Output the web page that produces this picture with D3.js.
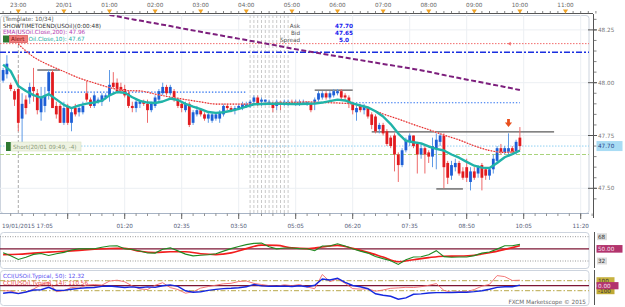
<!DOCTYPE html>
<html>
<head>
<meta charset="utf-8">
<script src="https://cdn.jsdelivr.net/npm/d3@7"></script>
<style>
  body { margin: 0; background: #fff; }
  svg text { font-family: "DejaVu Sans", Verdana, sans-serif; font-size: 5.7px; }
</style>
</head>
<body>
<div id="chart"></div>
<script>
// 5-minute USOil candles, 19/01 22:40 -> 20/01 10:00
const candleStart = new Date(2015, 0, 19, 22, 40);

const opens = [48.01,48.04,47.99,47.96,47.97,47.83,47.92,47.93,47.98,47.95,47.86,47.89,47.96,48.05,47.89,47.89,47.81,47.89,47.81,47.88,
  47.86,47.86,47.95,47.92,47.89,47.91,47.91,47.93,47.94,48.00,48.00,47.98,47.97,47.95,47.89,47.88,47.90,47.91,47.90,47.87,
  47.89,47.92,47.95,47.98,47.95,47.96,47.92,47.90,47.87,47.90,47.81,47.85,47.87,47.85,47.83,47.82,47.83,47.83,47.85,47.89,
  47.88,47.87,47.88,47.88,47.89,47.89,47.91,47.93,47.91,47.91,47.91,47.90,47.89,47.91,47.90,47.90,47.91,47.90,47.90,47.90,
  47.90,47.90,47.90,47.92,47.93,47.95,47.93,47.94,47.95,47.96,47.94,47.93,47.90,47.86,47.89,47.87,47.88,47.85,47.84,47.78,
  47.80,47.77,47.74,47.75,47.66,47.61,47.68,47.72,47.75,47.71,47.66,47.69,47.67,47.65,47.69,47.72,47.75,47.62,47.56,47.60,
  47.62,47.58,47.60,47.53,47.58,47.57,47.61,47.59,47.56,47.59,47.63,47.69,47.67,47.67,47.69,47.67,47.74];
const highs = [48.07,48.13,48.00,47.97,48.04,47.95,47.94,48.00,48.07,47.97,47.98,47.98,48.06,48.06,47.91,47.90,47.91,47.90,47.88,47.90,
  47.89,47.91,48.01,47.93,47.95,47.93,47.95,47.95,48.06,48.05,48.02,48.00,47.99,47.96,47.91,47.92,47.92,47.92,47.92,47.91,
  47.94,47.97,48.00,47.99,47.99,47.97,47.93,47.91,47.91,47.91,47.87,47.89,47.88,47.86,47.86,47.86,47.86,47.87,47.90,47.90,
  47.89,47.89,47.90,47.91,47.91,47.92,47.94,47.94,47.93,47.92,47.92,47.91,47.92,47.91,47.92,47.92,47.92,47.92,47.92,47.92,
  47.91,47.91,47.93,47.96,47.96,47.96,47.96,47.97,47.97,47.97,47.95,47.94,47.91,47.89,47.90,47.90,47.88,47.86,47.85,47.81,
  47.81,47.78,47.75,47.76,47.67,47.69,47.74,47.76,47.75,47.72,47.71,47.70,47.68,47.74,47.76,47.76,47.76,47.63,47.63,47.64,
  47.63,47.60,47.64,47.60,47.60,47.61,47.62,47.60,47.60,47.66,47.70,47.71,47.70,47.76,47.70,47.73,47.79];
const lows = [48.00,48.02,47.96,47.89,47.77,47.71,47.85,47.90,47.91,47.85,47.82,47.86,47.92,47.88,47.83,47.81,47.80,47.80,47.77,47.84,
  47.84,47.85,47.91,47.88,47.88,47.90,47.89,47.92,47.91,47.97,47.95,47.95,47.93,47.88,47.86,47.86,47.88,47.89,47.81,47.86,
  47.88,47.91,47.94,47.94,47.94,47.91,47.88,47.86,47.86,47.79,47.80,47.84,47.84,47.82,47.81,47.81,47.82,47.81,47.84,47.87,
  47.86,47.85,47.87,47.87,47.88,47.88,47.90,47.89,47.89,47.90,47.90,47.86,47.87,47.87,47.89,47.89,47.90,47.89,47.89,47.90,
  47.89,47.86,47.87,47.91,47.92,47.92,47.92,47.93,47.94,47.92,47.92,47.88,47.85,47.82,47.86,47.85,47.83,47.78,47.76,47.76,
  47.75,47.70,47.69,47.58,47.53,47.60,47.67,47.70,47.69,47.57,47.64,47.57,47.62,47.60,47.59,47.70,47.50,47.52,47.54,47.58,
  47.56,47.54,47.53,47.49,47.54,47.55,47.49,47.54,47.54,47.57,47.62,47.66,47.66,47.65,47.66,47.66,47.68];
const closes = [48.06,48.09,47.97,47.92,47.81,47.90,47.88,47.98,47.96,47.87,47.93,47.94,48.05,47.88,47.85,47.81,47.88,47.81,47.86,47.85,
  47.88,47.89,47.92,47.89,47.94,47.92,47.94,47.94,47.99,47.98,47.96,47.96,47.94,47.89,47.88,47.91,47.91,47.90,47.87,47.90,
  47.93,47.96,47.98,47.95,47.98,47.92,47.89,47.88,47.90,47.80,47.86,47.87,47.85,47.83,47.85,47.85,47.85,47.86,47.89,47.88,
  47.87,47.88,47.89,47.90,47.90,47.91,47.93,47.90,47.92,47.92,47.91,47.88,47.91,47.90,47.91,47.91,47.90,47.91,47.91,47.91,
  47.91,47.87,47.92,47.95,47.95,47.93,47.95,47.96,47.96,47.93,47.93,47.90,47.87,47.88,47.87,47.89,47.84,47.80,47.77,47.80,
  47.76,47.71,47.70,47.66,47.61,47.68,47.73,47.75,47.70,47.66,47.69,47.66,47.65,47.70,47.73,47.75,47.60,47.55,47.61,47.62,
  47.57,47.55,47.55,47.58,47.55,47.60,47.55,47.56,47.59,47.64,47.69,47.67,47.69,47.69,47.67,47.72,47.70];

// EMA(10), one value every 2 candles from the first candle
const ema10 = [48.086,48.055,47.984,47.961,47.941,47.929,47.946,47.921,47.895,47.880,
  47.893,47.901,47.906,47.915,47.940,47.956,47.952,47.931,47.914,47.906,
  47.904,47.911,47.925,47.918,47.900,47.887,47.875,47.861,47.857,47.860,
  47.867,47.876,47.887,47.898,47.899,47.900,47.901,47.900,47.899,47.899,
  47.900,47.901,47.906,47.913,47.920,47.916,47.902,47.892,47.883,47.865,
  47.840,47.804,47.759,47.725,47.718,47.713,47.698,47.687,47.679,47.660,
  47.645,47.625,47.607,47.598,47.596,47.620,47.647,47.662,47.679];
// red dotted average, every 4 candles from candle 4
const maRed = [48.183,48.122,48.084,48.053,48.022,47.999,47.977,47.963,47.961,47.946,
  47.932,47.920,47.909,47.899,47.899,47.899,47.902,47.904,47.906,47.909,
  47.906,47.904,47.899,47.880,47.852,47.828,47.802,47.778,47.752,47.729,
  47.701,47.679,47.670,47.677];
// EMA(200), every 4 candles from candle 28
const ema200 = [48.321,48.307,48.294,48.281,48.268,48.254,48.241,48.228,48.215,48.202,
  48.189,48.176,48.162,48.149,48.137,48.125,48.113,48.101,48.089,48.077,
  48.065,48.052,48.036,48.022,48.008,47.994,47.980,47.965];

// RSI panel: fast (green) every 2 candles, slow (red) every 4 candles
const rsiFast = [44.3,39.9,34.2,37.5,41.8,43.0,40.1,42.8,44.8,48.2,49.9,50.0,50.1,52.4,54.2,54.6,50.3,49.0,46.7,43.9,
  43.7,49.4,51.5,47.0,42.2,39.6,40.6,41.3,42.8,46.6,50.3,53.4,56.3,58.1,58.5,53.1,50.0,51.3,51.3,50.4,
  50.1,47.3,54.2,54.3,57.6,54.3,50.0,46.6,43.7,38.8,35.5,32.5,26.9,33.7,37.9,38.4,41.2,47.3,38.5,37.5,
  37.9,37.9,40.0,43.7,45.4,49.6,54.6,54.5,56.6];
const rsiSlow = [41.5,41.9,43.7,45.1,46.3,47.8,49.4,50.6,50.7,46.4,44.6,45.7,45.7,42.7,41.5,44.0,50.3,55.5,55.1,51.6,
  50.4,52.7,55.2,50.7,44.8,37.9,31.0,33.9,37.0,39.1,39.4,40.6,44.2,49.1,54.6];

// CCI panel, every 2 candles
const cci50 = [-152,-132,-158,-126,-86,-80,-32,-96,-94,-72,-54,-40,-36,-14,-6,-20,-36,-24,-40,-24,
  -34,0,16,-14,-102,-130,-122,-94,-74,-58,-52,-42,-22,26,-4,-12,-10,-8,-16,-2,
  -20,8,134,114,150,66,4,-20,-60,-162,-192,-212,-270,-244,-172,-164,-146,-138,-138,-136,
  -132,-132,-118,-100,-70,-34,-20,-20,12];
const cci14 = [-102,-104,-152,-126,-66,18,74,-120,-100,-34,-48,14,24,12,92,110,78,-4,-66,-76,
  8,60,-38,-76,-150,-120,-48,-16,10,38,48,84,94,46,24,2,-10,18,0,24,
  -26,-60,224,80,136,48,-58,-68,-62,-110,-86,-52,-44,-32,-36,-20,8,42,-94,-132,
  -120,-120,-76,-10,28,202,182,104,110];

// horizontal levels
const alertLevel = 48.185, blueLevel = 48.144, pricelevel = 47.70, shortLevel = 47.66;
const dottedSegs = [
  {p: 47.955, from: [19, 23, 40], to: [20, 4, 0]},
  {p: 47.905, from: [20, 6, 20], to: [20, 10, 0]}
];
const hiLoMarks = [
  {p: 48.06, from: [19, 23, 25], to: [19, 23, 55]},
  {p: 47.965, from: [20, 5, 30], to: [20, 6, 20]},
  {p: 47.767, from: [20, 6, 45], to: [20, 10, 45]},
  {p: 47.497, from: [20, 8, 10], to: [20, 8, 45]}
];
const priceTicks = [47.50, 47.75, 48.00, 48.25];

const T = (d, h, m) => new Date(2015, 0, d, h, m);
const candleTime = i => new Date(candleStart.getTime() + i * 300000);
const candles = opens.map((o, i) => ({t: candleTime(i), o: o, h: highs[i], l: lows[i], c: closes[i]}));
const series = (vals, first, step) => vals.map((v, k) => ({t: candleTime(first + k * step), v: v}));

const W = 625, H = 307, R = 589;
const main = {top: 15, bottom: 213}, rsiP = {top: 232, bottom: 268}, cciP = {top: 270, bottom: 305};

const svg = d3.select("#chart").append("svg").attr("width", W).attr("height", H);

const x = d3.scaleTime().domain([T(19, 22, 0), T(20, 12, 0)]).range([-27.3, 611.1]);
const y = d3.scaleLinear().domain([47.5, 48.25]).range([188.3, 29.9]);
const yRsi = d3.scaleLinear().domain([32, 68]).range([261, 236.7]);
const yCci = d3.scaleLinear().domain([-100, 100]).range([290.7, 280.7]);

const defs = svg.append("defs");
[["clipMain", main], ["clipRsi", rsiP], ["clipCci", cciP]].forEach(([id, p]) => {
  defs.append("clipPath").attr("id", id).append("rect")
    .attr("x", 0).attr("y", p.top).attr("width", R).attr("height", p.bottom - p.top);
});

// panel frames
[main, rsiP, cciP].forEach(p => {
  svg.append("rect").attr("x", 0.5).attr("y", p.top + 0.5).attr("width", R - 0.5).attr("height", p.bottom - p.top)
    .attr("rx", 3).attr("fill", "#fff").attr("stroke", "#cdd4de");
});

// ---- top time axis
const hourTicks = d3.timeHour.range(T(19, 23, 0), T(20, 11, 30));
const topAxis = svg.append("g").attr("transform", "translate(0,13.5)");
topAxis.append("line").attr("x1", 0).attr("x2", 593).attr("stroke", "#555");
topAxis.selectAll(".mt").data(d3.timeMinute.range(T(19, 22, 40), T(20, 11, 50), 10)).join("line")
  .attr("x1", d => x(d)).attr("x2", d => x(d)).attr("y1", 0).attr("y2", -2.5).attr("stroke", "#666").attr("stroke-width", 0.8);
topAxis.selectAll(".tri").data(hourTicks).join("path")
  .attr("d", d => `M${x(d) - 2.6},-4L${x(d) + 2.6},-4L${x(d)},0Z`).attr("fill", "#f0a326");
topAxis.selectAll(".lbl").data(hourTicks).join("text")
  .attr("x", d => x(d)).attr("y", -6.3).attr("text-anchor", "middle").attr("fill", "#666")
  .text(d => d.getHours() === 0 ? "20/01" : d3.timeFormat("%H:%M")(d));

// ---- main panel grid
const majorBottom = d3.timeMinute.range(T(20, 0, 5), T(20, 11, 30), 75);
const gMain = svg.append("g").attr("clip-path", "url(#clipMain)");
gMain.selectAll(".vg").data(majorBottom).join("line")
  .attr("x1", d => x(d)).attr("x2", d => x(d)).attr("y1", main.top).attr("y2", main.bottom).attr("stroke", "#eceff3");
gMain.selectAll(".hg").data(priceTicks).join("line")
  .attr("x1", 0).attr("x2", R).attr("y1", d => y(d)).attr("y2", d => y(d)).attr("stroke", "#eceff3");

// session gap markers and 23:00 marker
gMain.selectAll(".gap").data(d3.timeMinute.range(T(20, 4, 5), T(20, 5, 0), 5)).join("line")
  .attr("x1", d => x(d)).attr("x2", d => x(d)).attr("y1", main.top).attr("y2", main.bottom)
  .attr("stroke", "#c9c9c9").attr("stroke-dasharray", "3,2");
gMain.append("line").attr("x1", x(T(19, 23, 0))).attr("x2", x(T(19, 23, 0)))
  .attr("y1", main.top).attr("y2", main.bottom).attr("stroke", "#aaa").attr("stroke-dasharray", "3,2");

// horizontal levels
const hline = (p, color, dash, w) => gMain.append("line").attr("x1", 0).attr("x2", R)
  .attr("y1", y(p)).attr("y2", y(p)).attr("stroke", color).attr("stroke-dasharray", dash).attr("stroke-width", w);
hline(alertLevel, "#f26b6b", "1.5,1.5", 1);
hline(blueLevel, "#1a2fe0", "6,2,2,2", 1.4);
hline(pricelevel, "#8fd0f2", "1.5,1.5", 1);
hline(shortLevel, "#a9d37c", "4,2", 1);
gMain.append("path").attr("d", `M${x(T(20, 9, 44))},${y(alertLevel)}l3,-2v4z`).attr("fill", "#f26b6b");

gMain.selectAll(".ds").data(dottedSegs).join("line")
  .attr("x1", d => x(T(...d.from))).attr("x2", d => x(T(...d.to)))
  .attr("y1", d => y(d.p)).attr("y2", d => y(d.p))
  .attr("stroke", "#2a6ff0").attr("stroke-width", 1.2).attr("stroke-dasharray", "1.4,1.8");
gMain.selectAll(".hl").data(hiLoMarks).join("line")
  .attr("x1", d => x(T(...d.from))).attr("x2", d => x(T(...d.to)))
  .attr("y1", d => y(d.p)).attr("y2", d => y(d.p))
  .attr("stroke", "#5a5a5a").attr("stroke-width", 1.3);

// candles
gMain.selectAll(".wick").data(candles).join("line")
  .attr("x1", d => x(d.t)).attr("x2", d => x(d.t))
  .attr("y1", d => y(d.h)).attr("y2", d => y(d.l))
  .attr("stroke", d => d.c >= d.o ? "#5e9ae6" : "#ee6a6a").attr("stroke-width", 1);
gMain.selectAll(".body").data(candles).join("rect")
  .attr("x", d => x(d.t) - 1.4).attr("width", 2.8)
  .attr("y", d => y(Math.max(d.o, d.c)))
  .attr("height", d => Math.max(1, Math.abs(y(d.o) - y(d.c))))
  .attr("fill", d => d.c >= d.o ? "#1d5fd6" : "#e21b1f");

// moving averages
const line = sc => d3.line().x(d => x(d.t)).y(d => sc(d.v));
gMain.append("path").datum(series(maRed, 4, 4)).attr("d", line(y).curve(d3.curveMonotoneX))
  .attr("fill", "none").attr("stroke", "#f7b3b3").attr("stroke-width", 1);
gMain.append("path").datum(series(maRed, 4, 4)).attr("d", line(y).curve(d3.curveMonotoneX))
  .attr("fill", "none").attr("stroke", "#e62525").attr("stroke-width", 1.2).attr("stroke-dasharray", "1.2,1.6");
gMain.append("path").datum(series(ema200, 28, 4)).attr("d", line(y).curve(d3.curveMonotoneX))
  .attr("fill", "none").attr("stroke", "#7d1f7d").attr("stroke-width", 2).attr("stroke-dasharray", "5,2.5");
gMain.append("path").datum(series(ema10, 0, 2)).attr("d", line(y))
  .attr("fill", "none").attr("stroke", "#20b3a8").attr("stroke-width", 2.4).attr("stroke-linejoin", "round");

// sell marker
const ax = x(T(20, 9, 45)), ay = y(47.79);
gMain.append("path")
  .attr("d", `M${ax - 1.4},${ay - 8}h2.8v3.5h2.2l-3.6,4.5l-3.6,-4.5h2.2z`)
  .attr("fill", "#e8501e");

// short order tag
svg.append("rect").attr("x", 6).attr("y", 142).attr("width", 5).attr("height", 9).attr("fill", "#2f7a33");
svg.append("rect").attr("x", 11).attr("y", 142).attr("width", 70).attr("height", 9).attr("fill", "#eef3e2").attr("stroke", "#d6e2c4").attr("stroke-width", 0.6);
svg.append("text").attr("x", 13).attr("y", 148.8).attr("fill", "#8a9a78").text("Short(20/01 09:49, -4)");

// legend (the alert tag hides the start of the EMA(10) row)
const legendRows = [
  {text: "[Template: 10/34]", color: "#555", x: 3, y: 21.1},
  {text: "SHOWTIMETOEND(USOil)(0:00:48)", color: "#333", x: 3, y: 27.8},
  {text: "EMA(USOil.Close,200): 47.96", color: "#b43cb0", x: 3, y: 34.4},
  {text: "Oil.Close,10): 47.67", color: "#22aaa2", x: 28.5, y: 41.1}
];
svg.selectAll(".lg").data(legendRows).join("text")
  .attr("x", d => d.x).attr("y", d => d.y).attr("fill", d => d.color).text(d => d.text);
svg.append("rect").attr("x", 3).attr("y", 35.5).attr("width", 6).attr("height", 7).attr("fill", "#2f7a33");
svg.append("rect").attr("x", 9.5).attr("y", 35.5).attr("width", 18).attr("height", 7).attr("fill", "#f27e7e").attr("stroke", "#cf4444").attr("stroke-width", 0.6);
svg.append("text").attr("x", 11).attr("y", 41).attr("fill", "#7a1414").text("Alert");

// ask / bid box
const quote = [["Ask", "47.70", 27.6], ["Bid", "47.65", 34.9], ["Spread", "5.0", 42.2]];
svg.selectAll(".ql").data(quote).join("text").attr("x", 300).attr("y", d => d[2])
  .attr("text-anchor", "end").attr("fill", "#555").text(d => d[0]);
svg.selectAll(".qv").data(quote).join("text").attr("x", 344).attr("y", d => d[2])
  .attr("text-anchor", "middle").attr("fill", "#1a22ee").attr("font-weight", "bold").text(d => d[1]);

// ---- bottom time axis of main panel
const bAxis = svg.append("g").attr("transform", `translate(0,${main.bottom + 0.5})`);
bAxis.append("line").attr("x1", 0).attr("x2", R).attr("stroke", "#a7b3c4");
bAxis.selectAll(".bm").data(d3.timeMinute.range(T(19, 22, 50), T(20, 11, 40), 15)).join("line")
  .attr("x1", d => x(d)).attr("x2", d => x(d)).attr("y1", 0).attr("y2", 2.5).attr("stroke", "#777").attr("stroke-width", 0.8);
bAxis.selectAll(".bM").data(majorBottom).join("line")
  .attr("x1", d => x(d)).attr("x2", d => x(d)).attr("y1", 0).attr("y2", 5.5).attr("stroke", "#666");
bAxis.selectAll(".bl").data(majorBottom.slice(1)).join("text")
  .attr("x", d => x(d)).attr("y", 14.8).attr("text-anchor", "middle").attr("fill", "#55607a")
  .text(d => d3.timeFormat("%H:%M")(d));
bAxis.append("text").attr("x", 2).attr("y", 14.8).attr("fill", "#55607a").text("19/01/2015 17:05");

// ---- right price axis
const rAxis = svg.append("g");
rAxis.append("line").attr("x1", 593.5).attr("x2", 593.5).attr("y1", 14).attr("y2", 218).attr("stroke", "#555");
rAxis.selectAll(".rm").data(d3.range(47.45, 48.31, 0.05)).join("line")
  .attr("x1", 593.5).attr("x2", 596.5).attr("y1", d => y(d)).attr("y2", d => y(d)).attr("stroke", "#666").attr("stroke-width", 0.8);
rAxis.selectAll(".rM").data(priceTicks).join("line")
  .attr("x1", 588).attr("x2", 597).attr("y1", d => y(d)).attr("y2", d => y(d)).attr("stroke", "#555");
rAxis.selectAll(".rl").data(priceTicks).join("text")
  .attr("x", 598).attr("y", d => y(d) + 2.1).attr("fill", "#777").text(d => d.toFixed(2));
rAxis.append("rect").attr("x", 596.5).attr("y", y(pricelevel) - 5).attr("width", 26).attr("height", 10).attr("fill", "#a9dcf4");
rAxis.append("text").attr("x", 598).attr("y", y(pricelevel) + 2.1).attr("fill", "#1d3f86").text("47.70");

// ---- RSI panel
const gRsi = svg.append("g").attr("clip-path", "url(#clipRsi)");
[68, 32].forEach(v => gRsi.append("line").attr("x1", 0).attr("x2", R).attr("y1", yRsi(v)).attr("y2", yRsi(v))
  .attr("stroke", "#999").attr("stroke-dasharray", "1,1.5"));
gRsi.append("line").attr("x1", 0).attr("x2", R).attr("y1", yRsi(50)).attr("y2", yRsi(50)).attr("stroke", "#7d1634").attr("stroke-width", 1.2);
gRsi.append("path").datum(series(rsiSlow, 0, 4)).attr("d", line(yRsi).curve(d3.curveMonotoneX))
  .attr("fill", "none").attr("stroke", "#f21d1d").attr("stroke-width", 1.6);
gRsi.append("path").datum(series(rsiFast, 0, 2)).attr("d", line(yRsi))
  .attr("fill", "none").attr("stroke", "#1f8a22").attr("stroke-width", 1.1);

svg.append("line").attr("x1", 594.5).attr("x2", 594.5).attr("y1", rsiP.top).attr("y2", rsiP.bottom).attr("stroke", "#555");
[68, 32].forEach(v => {
  svg.append("rect").attr("x", 597).attr("y", yRsi(v) - 3.5).attr("width", 10).attr("height", 7).attr("fill", "#dcdcdc");
  svg.append("text").attr("x", 598).attr("y", yRsi(v) + 2.1).attr("fill", "#333").text(v);
});
svg.append("rect").attr("x", 596.5).attr("y", yRsi(50) - 3.8).attr("width", 26).attr("height", 7.6).attr("fill", "#b2346d");
svg.append("text").attr("x", 598).attr("y", yRsi(50) + 2.1).attr("fill", "#fbe0ee").text("50.00");

// ---- CCI panel
const gCci = svg.append("g").attr("clip-path", "url(#clipCci)");
[100, -100].forEach(v => gCci.append("line").attr("x1", 0).attr("x2", R).attr("y1", yCci(v)).attr("y2", yCci(v))
  .attr("stroke", "#b9a84a").attr("stroke-dasharray", "5,2,1.5,2"));
gCci.append("line").attr("x1", 0).attr("x2", R).attr("y1", yCci(0)).attr("y2", yCci(0)).attr("stroke", "#7d1634").attr("stroke-width", 1.2);
gCci.append("path").datum(series(cci14, 0, 2)).attr("d", line(yCci))
  .attr("fill", "none").attr("stroke", "#f36a6a").attr("stroke-width", 0.9);
gCci.append("path").datum(series(cci50, 0, 2)).attr("d", line(yCci))
  .attr("fill", "none").attr("stroke", "#1428e0").attr("stroke-width", 1.4);
svg.append("text").attr("x", 3).attr("y", 278).attr("fill", "#5a50f0").text("CCI(USOil.Typical, 50): 12.32");
svg.append("text").attr("x", 3).attr("y", 285).attr("fill", "#ee4c4c").text("CCI(USOil.Typical, 14): 110.56");

svg.append("line").attr("x1", 594.5).attr("x2", 594.5).attr("y1", cciP.top).attr("y2", cciP.bottom).attr("stroke", "#555");
svg.append("rect").attr("x", 596.5).attr("y", yCci(100) - 3.5).attr("width", 18).attr("height", 7).attr("fill", "#c7b240");
svg.append("text").attr("x", 598).attr("y", yCci(100) + 2).attr("fill", "#333").text("100");
svg.append("rect").attr("x", 596.5).attr("y", yCci(-100) - 3.5).attr("width", 18).attr("height", 7).attr("fill", "#bfa935");
svg.append("text").attr("x", 598).attr("y", yCci(-100) + 2.1).attr("fill", "#333").text("-100");
svg.append("rect").attr("x", 596.5).attr("y", yCci(0) - 3.6).attr("width", 22).attr("height", 7.2).attr("fill", "#b2346d");
svg.append("text").attr("x", 598).attr("y", yCci(0) + 2.1).attr("fill", "#fbe0ee").text("0.00");

svg.append("text").attr("x", 586).attr("y", 304).attr("text-anchor", "end").attr("fill", "#666")
  .text("FXCM Marketscope \u00a9 2015");
</script>
</body>
</html>
